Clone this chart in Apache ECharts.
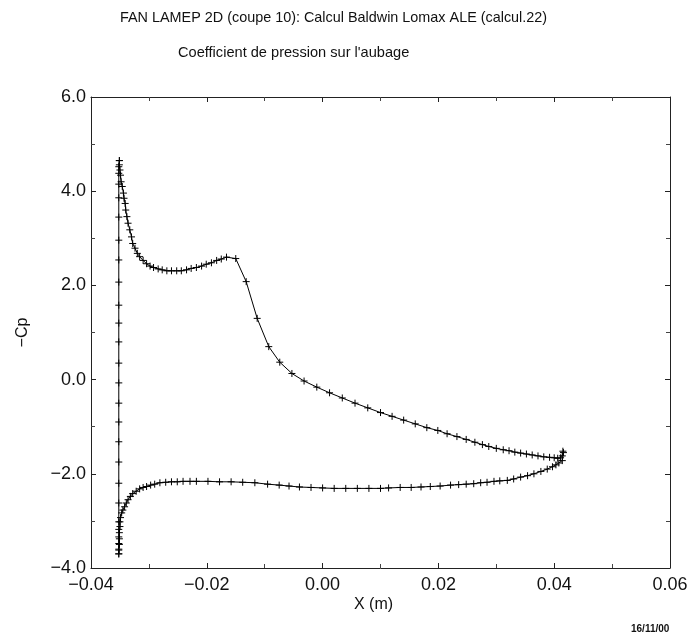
<!DOCTYPE html>
<html><head><meta charset="utf-8">
<script src="https://cdn.jsdelivr.net/npm/echarts@6/dist/echarts.min.js"></script>
<style>html,body{margin:0;padding:0;background:#fff}#c{width:693px;height:637px}</style>
</head><body><div id="c"></div>
<script>
// Upper (suction) surface, leading edge -> trailing edge
const upperX = [-0.0351,-0.0351,-0.0350,-0.0349,-0.0348,-0.0346,-0.0344,-0.0343,-0.0341,-0.0340,-0.0338,-0.0336,-0.0333,-0.0330,-0.0328,-0.0324,-0.0320,-0.0316,-0.0310,-0.0304,-0.0298,-0.0292,-0.0284,-0.0277,-0.0269,-0.0261,-0.0252,-0.0244,-0.0235,-0.0227,-0.0218,-0.0209,-0.0201,-0.0192,-0.0183,-0.0175,-0.0166,-0.0150,-0.0132,-0.0113,-0.0093,-0.0074,-0.0053,-0.0032,-0.0010,0.0012,0.0034,0.0056,0.0078,0.0100,0.0120,0.0140,0.0160,0.0180,0.0199,0.0215,0.0232,0.0248,0.0263,0.0276,0.0287,0.0300,0.0312,0.0322,0.0332,0.0342,0.0352,0.0362,0.0372,0.0382,0.0392,0.0400,0.0406,0.0411,0.0414,0.0416,0.0415];
const upperCp = [4.65,4.56,4.45,4.34,4.20,4.10,3.96,3.85,3.74,3.60,3.46,3.32,3.18,3.03,2.89,2.79,2.68,2.61,2.53,2.46,2.41,2.38,2.35,2.33,2.31,2.31,2.31,2.31,2.33,2.36,2.38,2.41,2.45,2.48,2.53,2.56,2.60,2.57,2.08,1.30,0.70,0.37,0.13,-0.03,-0.16,-0.28,-0.39,-0.50,-0.60,-0.70,-0.78,-0.86,-0.94,-1.02,-1.08,-1.15,-1.21,-1.27,-1.33,-1.38,-1.42,-1.46,-1.49,-1.51,-1.54,-1.56,-1.58,-1.60,-1.62,-1.64,-1.65,-1.66,-1.67,-1.66,-1.62,-1.55,-1.52];
// Lower (pressure) surface, trailing edge -> leading edge
const lowerX = [0.0414,0.0408,0.0403,0.0397,0.0388,0.0377,0.0365,0.0354,0.0342,0.0330,0.0319,0.0306,0.0296,0.0284,0.0273,0.0261,0.0248,0.0235,0.0221,0.0203,0.0186,0.0170,0.0153,0.0134,0.0114,0.0100,0.0080,0.0060,0.0040,0.0020,0.0000,-0.0020,-0.0040,-0.0058,-0.0075,-0.0095,-0.0117,-0.0138,-0.0158,-0.0178,-0.0198,-0.0218,-0.0229,-0.0241,-0.0251,-0.0261,-0.0271,-0.0281,-0.0290,-0.0297,-0.0304,-0.0310,-0.0316,-0.0322,-0.0328,-0.0332,-0.0336,-0.0339,-0.0342,-0.0345,-0.0347,-0.0349,-0.0350,-0.0350,-0.0351,-0.0351,-0.0351,-0.0352,-0.0352];
const lowerCp = [-1.72,-1.77,-1.81,-1.85,-1.90,-1.95,-2.00,-2.04,-2.07,-2.11,-2.14,-2.15,-2.16,-2.18,-2.19,-2.21,-2.22,-2.23,-2.24,-2.26,-2.27,-2.28,-2.29,-2.29,-2.30,-2.31,-2.31,-2.31,-2.31,-2.31,-2.30,-2.29,-2.28,-2.26,-2.24,-2.22,-2.19,-2.18,-2.17,-2.17,-2.16,-2.16,-2.16,-2.16,-2.17,-2.17,-2.18,-2.19,-2.22,-2.24,-2.27,-2.29,-2.32,-2.37,-2.42,-2.48,-2.55,-2.62,-2.70,-2.77,-2.83,-2.93,-3.02,-3.12,-3.25,-3.38,-3.50,-3.62,-3.70];
// Leading-edge (vertical) segment, bottom -> top
const noseX = [-0.0352,-0.0352,-0.0352,-0.0352,-0.0352,-0.0352,-0.0352,-0.0352,-0.0352,-0.0352,-0.0352,-0.0352,-0.0352,-0.0352,-0.0352,-0.0352,-0.0352,-0.0352,-0.0352,-0.0352,-0.0352,-0.0352,-0.0352,-0.0352,-0.0352,-0.0351];
const noseCp = [-3.70,-3.60,-3.48,-3.34,-3.18,-3.02,-2.62,-2.20,-1.75,-1.32,-0.90,-0.50,-0.07,0.35,0.80,1.20,1.58,2.07,2.54,2.96,3.45,3.86,4.15,4.38,4.52,4.65];

const xTicks = {min:-0.04, max:0.06, interval:0.02};
const yTicks = {min:-4.0, max:6.0, interval:2.0};
const titleText = 'FAN LAMEP 2D (coupe 10): Calcul Baldwin Lomax ALE (calcul.22)';
const subtitleText = "Coefficient de pression sur l'aubage";
const xName = 'X (m)';
const yName = '\u2212Cp';
const dateText = '16/11/00';

const pts = [];
upperX.forEach((x,i)=>pts.push([x, upperCp[i]]));
lowerX.forEach((x,i)=>pts.push([x, lowerCp[i]]));
noseX.forEach((x,i)=>pts.push([x, noseCp[i]]));

const fmt = d => v => (v < -1e-9 ? '\u2212' : '') + Math.abs(v).toFixed(d);
const FONT = '"Liberation Sans", Arial, Helvetica, sans-serif';
const axisCommon = {
  axisLine:{show:true, onZero:false, lineStyle:{color:'#222', width:1}},
  axisTick:{show:true, inside:true, length:5, lineStyle:{color:'#222'}},
  minorTick:{show:true, splitNumber:2, length:4, lineStyle:{color:'#444'}},
  splitLine:{show:false}
};
const chart = echarts.init(document.getElementById('c'), null, {renderer:'canvas'});
chart.setOption({
  animation:false,
  backgroundColor:'#fff',
  grid:{left:91, right:23, top:97, bottom:69, containLabel:false},
  xAxis:[
    Object.assign({type:'value', position:'bottom', min:xTicks.min, max:xTicks.max, interval:xTicks.interval,
      axisLabel:{formatter:fmt(2), fontSize:18, color:'#111', fontFamily:FONT, margin:8}}, axisCommon),
    Object.assign({type:'value', position:'top', min:xTicks.min, max:xTicks.max, interval:xTicks.interval,
      axisLabel:{show:false}}, axisCommon)
  ],
  yAxis:[
    Object.assign({type:'value', position:'left', min:yTicks.min, max:yTicks.max, interval:yTicks.interval,
      name:yName, nameLocation:'middle', nameGap:60, nameRotate:90, nameTextStyle:{fontSize:16, color:'#111', fontFamily:FONT},
      axisLabel:{formatter:fmt(1), fontSize:18, color:'#111', fontFamily:FONT, margin:5}}, axisCommon),
    Object.assign({type:'value', position:'right', min:yTicks.min, max:yTicks.max, interval:yTicks.interval,
      axisLabel:{show:false}}, axisCommon)
  ],
  graphic:[
    {type:'text', left:120, top:11, style:{text:titleText, font:'14.4px '+FONT, fill:'#111'}},
    {type:'text', left:178, top:45, style:{text:subtitleText, font:'14.6px '+FONT, fill:'#111'}},
    {type:'text', left:354, top:597, style:{text:xName, font:'16px '+FONT, fill:'#111'}},
    {type:'text', left:631, top:624, style:{text:dateText, font:'bold 10px '+FONT, fill:'#111'}}
  ],
  series:[{
    type:'line', xAxisIndex:0, yAxisIndex:0, data:pts,
    symbol:'path://M5,0L5,10M0,5L10,5', symbolSize:7, showSymbol:true,
    itemStyle:{color:'rgba(0,0,0,0)', borderColor:'#000', borderWidth:1},
    lineStyle:{color:'#000', width:1}
  }]
});
</script></body></html>
